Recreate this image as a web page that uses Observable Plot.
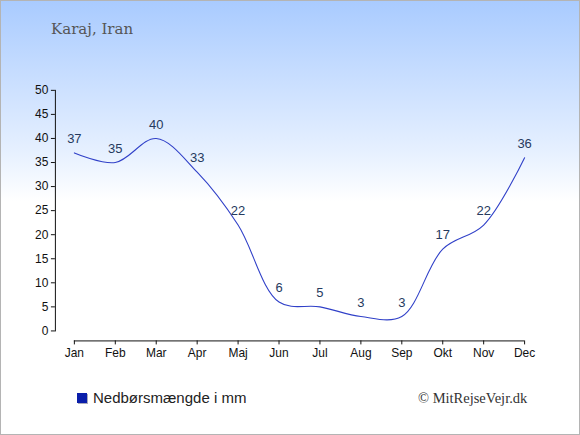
<!DOCTYPE html>
<html>
<head>
<meta charset="utf-8">
<script src="https://cdn.jsdelivr.net/npm/d3@7"></script>
<script src="https://cdn.jsdelivr.net/npm/@observablehq/plot@0.6"></script>
<style>
  html, body { margin: 0; padding: 0; background: #fff; }
  #wrap {
    position: relative; width: 580px; height: 435px; box-sizing: border-box;
    border: 1px solid #b4b4b4;
    background: linear-gradient(to bottom, #a9cbff 0px, #e6f0ff 150px, #ffffff 200px, #ffffff 435px);
    overflow: hidden;
  }
  #chart { position: absolute; left: -1px; top: -1px; }
  #title { position: absolute; left: 50px; top: 19px; font-family: "DejaVu Serif", "Liberation Serif", serif; font-size: 15px; color: #555; }
  #legend { position: absolute; left: 76px; top: 388px; font-family: "Liberation Sans", Arial, sans-serif; font-size: 15px; color: #222; display: flex; align-items: center; }
  #legend .sw { width: 10px; height: 10px; background: #0a1eaa; margin-right: 6px; box-shadow: 1px 1px 0 #aab; }
  #credit { position: absolute; left: 417px; top: 389px; font-family: "Liberation Serif", "DejaVu Serif", serif; font-size: 14.5px; color: #333; }
</style>
</head>
<body>
<div id="wrap">
  <div id="chart"></div>
  <div id="title">Karaj, Iran</div>
  <div id="legend"><span class="sw"></span><span>Nedbørsmængde i mm</span></div>
  <div id="credit">© MitRejseVejr.dk</div>
</div>
<script>
const months = ["Jan","Feb","Mar","Apr","Maj","Jun","Jul","Aug","Sep","Okt","Nov","Dec"];
const precip = [37,35,40,33,22,6,5,3,3,17,22,36];
const yTicks = [0,5,10,15,20,25,30,35,40,45,50];

const data = months.map((m, i) => ({month: m, value: precip[i]}));
const axisLine = [{y: 0, a: months[0], b: months[months.length - 1]}];

const plot = Plot.plot({
  width: 580,
  height: 435,
  marginLeft: 55,
  marginRight: 55,
  marginTop: 90,
  marginBottom: 104,
  style: {background: "transparent", fontFamily: "Liberation Sans, Arial, sans-serif", fontSize: "12px", color: "#111"},
  x: {type: "point", domain: months, range: [74, 525], padding: 0},
  y: {domain: [0, 50], range: [331, 90]},
  marks: [
    Plot.frame({anchor: "left", stroke: "#111"}),
    Plot.axisY({ticks: yTicks, tickSize: 4, tickPadding: 3, label: null, stroke: "#111", fill: "#111", fontSize: 12}),
    Plot.ruleY(axisLine, {y: "y", x1: "a", x2: "b", dy: 10, stroke: "#111"}),
    Plot.axisX({tickSize: 4, tickPadding: 4, label: null, dy: 10, stroke: "#111", fill: "#111", fontSize: 12}),
    Plot.line(data, {x: "month", y: "value", curve: "catmull-rom", stroke: "#3040c8", strokeWidth: 1.1}),
    Plot.text(data, {x: "month", y: "value", text: d => String(d.value), dy: -14, fill: "#263a5e", fontSize: 13})
  ]
});
document.getElementById("chart").appendChild(plot);
</script>
</body>
</html>
